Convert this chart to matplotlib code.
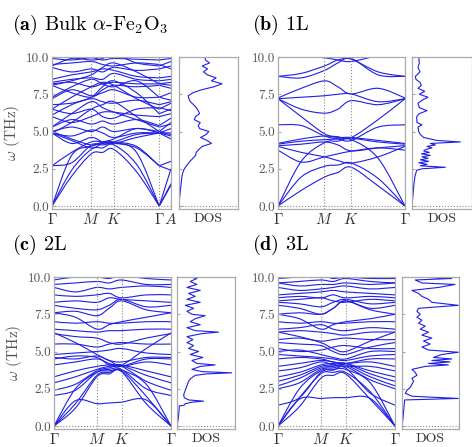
import numpy as np
import matplotlib.pyplot as plt
from matplotlib.path import Path
from matplotlib.patches import PathPatch

plt.rcParams['font.family'] = 'cmr10'
plt.rcParams['mathtext.fontset'] = 'cm'
plt.rcParams['axes.formatter.use_mathtext'] = True
plt.rcParams['axes.unicode_minus'] = False

# k-path (hexagonal BZ), segment lengths
hex_labels = [r'$\Gamma$', r'$M$', r'$K$', r'$\Gamma$']
hex_seg = [0.577, 0.333, 0.667]
bulk_labels = hex_labels + [r'$A$']
bulk_seg = hex_seg + [0.173]

# bands in THz at: G, mid, M, mid, K, mid, G (+ A for bulk)
bands_bulk = [
    [0.0, 2.0, 3.5, 3.6, 3.8, 2.3, 0.0, 1.4],
    [0.0, 2.4, 3.8, 3.9, 4.1, 2.8, 0.0, 1.5],
    [0.0, 3.4, 4.0, 4.2, 4.25, 3.6, 0.0, 2.5],
    [2.7, 2.9, 4.1, 4.1, 4.2, 3.9, 2.7, 2.4],
    [2.7, 3.6, 4.3, 4.3, 4.3, 4.0, 2.7, 3.0],
    [4.9, 4.2, 4.6, 4.3, 4.2, 4.6, 4.9, 4.5],
    [4.9, 4.7, 5.1, 4.9, 4.6, 4.9, 4.9, 4.9],
    [5.0, 5.3, 5.0, 5.3, 5.0, 5.2, 5.0, 5.6],
    [5.3, 5.8, 5.5, 5.7, 5.5, 5.8, 5.4, 5.9],
    [6.0, 5.6, 6.0, 6.3, 6.3, 6.1, 6.0, 6.2],
    [6.5, 6.2, 6.5, 6.0, 5.9, 6.5, 6.6, 6.4],
    [6.8, 6.9, 7.2, 7.0, 6.9, 7.1, 6.8, 7.0],
    [7.2, 7.8, 7.4, 7.6, 7.8, 7.3, 7.3, 7.1],
    [8.1, 7.6, 7.3, 7.8, 8.1, 8.0, 8.1, 7.9],
    [8.2, 8.3, 8.0, 8.2, 8.3, 8.2, 8.2, 8.3],
    [8.3, 8.5, 8.6, 8.5, 8.9, 8.5, 8.4, 8.5],
    [8.5, 8.8, 9.0, 9.2, 9.1, 8.7, 8.6, 8.7],
    [9.3, 9.0, 9.2, 9.0, 9.3, 9.1, 9.2, 9.4],
    [9.5, 9.6, 9.7, 9.5, 9.4, 9.6, 9.5, 9.2],
    [9.9, 9.8, 9.95, 9.8, 9.9, 9.85, 9.8, 9.9],
    [4.9, 5.6, 6.5, 6.8, 7.0, 6.0, 5.0, 4.8],
    [6.1, 6.8, 7.3, 8.0, 8.4, 7.6, 6.2, 6.5],
    [5.0, 4.5, 4.1, 4.3, 4.5, 5.2, 4.9, 5.2],
    [8.1, 8.4, 8.8, 9.3, 9.6, 9.0, 8.2, 8.1],
    [5.3, 6.2, 7.0, 6.6, 6.3, 5.8, 5.3, 5.5],
    [6.5, 7.3, 8.0, 8.3, 8.1, 7.2, 6.5, 6.9],
    [4.9, 4.4, 3.9, 4.2, 4.3, 4.8, 4.9, 4.7],
    [7.3, 8.0, 8.5, 8.2, 8.0, 8.4, 7.3, 7.6],
    [9.4, 9.9, 9.8, 9.9, 10.2, 9.6, 9.4, 9.7],
]

bands_1l = [
    [0.0, 1.05, 1.94, 2.25, 2.6, 1.35, 0.0],
    [0.0, 1.95, 2.66, 2.75, 2.88, 1.85, 0.0],
    [0.0, 3.0, 4.25, 4.35, 4.45, 3.2, 0.0],
    [3.75, 2.95, 3.3, 3.5, 3.68, 3.9, 3.75],
    [4.0, 3.6, 3.3, 3.05, 2.88, 3.3, 4.0],
    [4.05, 4.15, 4.3, 4.1, 3.7, 3.9, 4.05],
    [4.15, 4.35, 4.45, 4.5, 4.55, 4.3, 4.15],
    [4.2, 4.5, 4.7, 4.6, 4.6, 4.4, 4.2],
    [5.45, 5.4, 4.7, 4.5, 4.4, 5.3, 5.45],
    [7.2, 6.0, 4.85, 4.65, 4.6, 5.8, 7.2],
    [7.2, 6.5, 6.23, 6.5, 7.07, 6.8, 7.2],
    [7.2, 7.3, 7.4, 7.5, 7.52, 7.0, 7.2],
    [7.25, 7.9, 8.4, 8.0, 7.52, 7.9, 7.25],
    [8.7, 8.6, 9.1, 9.6, 9.9, 8.8, 8.7],
    [8.7, 8.9, 9.4, 9.8, 9.85, 9.0, 8.7],
    [10.5, 10.1, 9.95, 9.8, 9.7, 10.1, 10.5],
]

bands_2l = [
    [0.0, 1.7, 1.5, 1.55, 1.6, 1.75, 0.0],
    [0.0, 1.2, 3.3, 3.5, 3.65, 1.5, 0.0],
    [0.0, 1.5, 3.4, 3.6, 3.7, 2.0, 0.0],
    [0.0, 2.5, 3.6, 3.7, 3.75, 2.8, 0.0],
    [2.05, 2.4, 3.6, 3.8, 3.8, 2.5, 2.05],
    [2.4, 2.8, 3.7, 3.9, 4.0, 3.0, 2.4],
    [2.9, 3.3, 3.8, 4.0, 4.05, 3.4, 2.9],
    [3.3, 3.7, 4.0, 4.1, 4.1, 3.7, 3.3],
    [4.1, 4.3, 4.5, 4.2, 4.0, 4.3, 4.1],
    [4.5, 4.7, 4.6, 4.1, 4.0, 4.5, 4.5],
    [4.6, 4.5, 4.7, 4.4, 4.3, 4.6, 4.6],
    [4.8, 4.9, 5.0, 5.1, 5.2, 4.9, 4.8],
    [5.5, 5.5, 5.3, 5.5, 5.6, 5.5, 5.5],
    [6.2, 6.0, 5.9, 5.6, 5.5, 5.9, 6.2],
    [6.25, 5.6, 4.8, 4.4, 4.1, 5.2, 6.25],
    [6.5, 6.4, 6.3, 6.4, 6.4, 6.5, 6.5],
    [7.0, 6.9, 7.0, 6.9, 6.9, 7.0, 7.0],
    [7.6, 7.3, 6.5, 6.8, 7.0, 7.3, 7.6],
    [7.6, 7.7, 7.4, 7.9, 8.4, 7.8, 7.6],
    [8.1, 7.9, 7.8, 8.1, 8.5, 8.0, 8.1],
    [8.3, 8.4, 8.3, 8.6, 8.5, 8.4, 8.3],
    [8.8, 8.7, 8.8, 8.9, 8.6, 8.8, 8.8],
    [9.3, 9.0, 9.3, 9.2, 9.3, 9.4, 9.3],
    [9.5, 9.6, 9.7, 9.6, 9.8, 9.5, 9.5],
    [9.8, 10.0, 10.0, 9.9, 10.1, 9.9, 9.8],
]

bands_3l = [
    [0.0, 1.8, 1.85, 1.9, 1.9, 1.85, 0.0],
    [0.0, 1.3, 3.2, 3.4, 3.5, 1.8, 0.0],
    [0.0, 1.9, 3.5, 3.6, 3.6, 2.3, 0.0],
    [0.0, 2.5, 3.7, 3.8, 3.8, 2.9, 0.0],
    [1.4, 1.9, 3.6, 3.75, 3.9, 2.2, 1.4],
    [2.5, 2.9, 3.8, 3.9, 4.0, 3.1, 2.5],
    [2.7, 3.2, 3.9, 4.0, 4.1, 3.3, 2.7],
    [3.0, 3.4, 4.0, 4.1, 4.2, 3.5, 3.0],
    [3.3, 3.6, 4.1, 4.2, 4.2, 3.7, 3.3],
    [3.7, 3.9, 4.3, 4.1, 4.0, 4.0, 3.7],
    [4.0, 4.2, 4.4, 4.3, 4.2, 4.3, 4.0],
    [4.5, 4.6, 4.5, 4.3, 4.2, 4.5, 4.5],
    [4.8, 4.7, 4.6, 4.5, 4.4, 4.7, 4.8],
    [5.0, 5.1, 4.8, 4.6, 4.5, 5.0, 5.0],
    [5.2, 5.0, 5.1, 5.3, 5.4, 5.2, 5.2],
    [5.6, 5.5, 5.4, 5.0, 4.8, 5.3, 5.6],
    [5.8, 5.9, 5.7, 5.8, 5.9, 5.8, 5.8],
    [6.3, 6.0, 5.6, 5.2, 5.0, 5.7, 6.3],
    [6.3, 6.4, 6.3, 6.2, 6.1, 6.3, 6.3],
    [6.5, 6.6, 6.8, 6.5, 6.4, 6.6, 6.5],
    [7.0, 6.9, 7.0, 6.9, 6.9, 7.0, 7.0],
    [7.5, 7.2, 6.5, 6.8, 7.0, 7.2, 7.5],
    [7.5, 7.6, 7.5, 7.9, 8.4, 7.8, 7.5],
    [8.1, 7.9, 7.5, 7.9, 8.4, 7.9, 8.1],
    [8.3, 8.2, 8.0, 8.3, 8.5, 8.2, 8.3],
    [8.4, 8.5, 8.6, 8.4, 8.3, 8.5, 8.4],
    [8.6, 8.7, 8.6, 8.8, 8.6, 8.7, 8.6],
    [8.8, 8.9, 9.0, 9.1, 9.0, 8.9, 8.8],
    [9.3, 9.1, 9.2, 9.3, 9.4, 9.2, 9.3],
    [9.6, 9.4, 9.5, 9.5, 9.6, 9.5, 9.6],
    [9.6, 9.7, 9.8, 9.7, 9.9, 9.7, 9.6],
    [9.9, 10.0, 10.1, 9.9, 10.0, 9.9, 9.9],
]

# DOS (arb. units) vs frequency (THz)
dos_bulk_f = [0.0, 0.4, 0.8, 1.2, 1.6, 2.0, 2.2, 2.4, 2.6, 2.8, 3.0, 3.2, 3.4, 3.6, 3.8, 4.0,
              4.2, 4.4, 4.6, 4.8, 5.0, 5.2, 5.4, 5.6, 5.8, 6.0, 6.2, 6.4, 6.6, 6.8, 7.0, 7.2,
              7.4, 7.6, 7.8, 8.0, 8.2, 8.4, 8.6, 8.8, 9.0, 9.2, 9.4, 9.6, 9.8, 10.0]
dos_bulk_v = [0, 1, 3, 5, 7, 9, 11, 14, 19, 26, 33, 42, 50, 52, 60, 70,
              98, 85, 65, 82, 90, 62, 58, 64, 46, 50, 62, 58, 52, 44, 34, 30,
              28, 42, 68, 105, 130, 98, 112, 86, 74, 86, 70, 92, 80, 78]

dos_1l_f = [0.0, 0.5, 1.0, 1.5, 2.0, 2.4, 2.5, 2.6, 2.7, 2.8, 2.9, 3.0, 3.1, 3.2, 3.3, 3.4,
            3.5, 3.6, 3.7, 3.8, 3.9, 4.0, 4.1, 4.2, 4.3, 4.4, 4.5, 4.6, 4.8, 5.0, 5.3, 5.45,
            5.6, 6.0, 6.2, 6.4, 6.6, 6.9, 7.1, 7.3, 7.5, 7.7, 7.9, 8.1, 8.3, 8.5, 8.7, 9.0,
            9.3, 9.6, 10.0]
dos_1l_v = [0, 2, 4, 6, 9, 14, 30, 100, 25, 45, 20, 50, 25, 48, 30, 55,
            28, 52, 35, 42, 60, 45, 70, 55, 145, 75, 55, 35, 25, 20, 18, 30,
            15, 14, 22, 45, 22, 18, 30, 48, 22, 38, 18, 28, 24, 12, 10, 24,
            18, 22, 20]

dos_2l_f = [0.0, 0.5, 1.0, 1.35, 1.4, 1.5, 1.6, 1.67, 1.75, 1.9, 2.1, 2.4, 2.7, 3.0, 3.2, 3.4,
            3.5, 3.57, 3.65, 3.8, 4.0, 4.1, 4.2, 4.4, 4.6, 4.8, 5.0, 5.2, 5.4, 5.6, 5.8, 6.0,
            6.2, 6.3, 6.4, 6.6, 6.8, 7.0, 7.2, 7.4, 7.5, 7.7, 7.9, 8.1, 8.3, 8.5, 8.7, 8.9,
            9.1, 9.3, 9.5, 9.7, 9.9, 10.0]
dos_2l_v = [0, 4, 6, 7, 22, 25, 45, 80, 35, 22, 20, 25, 30, 35, 42, 55,
            90, 165, 75, 45, 70, 115, 60, 45, 78, 40, 65, 35, 50, 30, 48, 30,
            75, 125, 55, 30, 70, 40, 55, 85, 45, 30, 50, 25, 70, 30, 55, 35,
            70, 30, 60, 40, 60, 40]

dos_3l_f = [0.0, 0.5, 1.0, 1.5, 1.75, 1.85, 2.0, 2.2, 2.4, 2.6, 2.8, 3.0, 3.2, 3.4, 3.6, 3.8,
            4.0, 4.1, 4.2, 4.3, 4.4, 4.5, 4.6, 4.8, 4.95, 5.1, 5.3, 5.5, 5.7, 5.9, 6.1, 6.3,
            6.5, 6.7, 6.9, 7.1, 7.3, 7.5, 7.7, 7.9, 8.1, 8.3, 8.5, 8.7, 8.9, 9.1, 9.3, 9.5,
            9.6, 9.8, 9.9, 10.0]
dos_3l_v = [0, 3, 5, 7, 8, 170, 30, 10, 15, 25, 30, 35, 30, 45, 40, 30,
            70, 140, 80, 145, 90, 150, 95, 120, 170, 80, 60, 85, 65, 90, 60, 80,
            55, 70, 50, 60, 45, 55, 45, 50, 170, 90, 80, 60, 50, 30, 110, 160,
            60, 40, 150, 50]

line_c = '#1f1fe6'
grey = '#aaaaaa'
txt_c = '#555555'

W, H = 472, 447
fig = plt.figure(figsize=(W / 100, H / 100), dpi=100)


def rect(x0, y0, x1, y1):
    return [x0 / W, 1 - y1 / H, (x1 - x0) / W, (y1 - y0) / H]


def kpath(seg, n_mid):
    nodes = np.concatenate([[0.0], np.cumsum(seg)])
    k = [nodes[0]]
    for i in range(len(seg)):
        if i < n_mid:
            k.append((nodes[i] + nodes[i + 1]) / 2)
        k.append(nodes[i + 1])
    return nodes, np.array(k)


def smooth_line(ax, x, y):
    # draw a smooth curve through the given points (cubic Bezier pieces)
    p = np.column_stack([x, y])
    verts = [p[0]]
    codes = [Path.MOVETO]
    n = len(p)
    for i in range(n - 1):
        p0 = p[i - 1] if i > 0 else p[i]
        p3 = p[i + 2] if i + 2 < n else p[i + 1]
        c1 = p[i] + (p[i + 1] - p0) / 6
        c2 = p[i + 1] - (p3 - p[i]) / 6
        verts += [c1, c2, p[i + 1]]
        codes += [Path.CURVE4] * 3
    ax.add_patch(PathPatch(Path(verts, codes), fill=False, ec=line_c, lw=0.8))


def style(ax):
    for s in ax.spines.values():
        s.set_color(grey)
        s.set_linewidth(0.9)
    ax.tick_params(direction='in', length=2.5, color=grey, labelcolor=txt_c,
                   labelsize=9.5, pad=2)


def panel(rb, rd, bands, seg, labels, dos_f, dos_v, dmax, title, tx, ty, ylab):
    ax = fig.add_axes(rect(*rb))
    nodes, k = kpath(seg, 3)
    for b in bands:
        smooth_line(ax, k[:7], b[:7])
        if len(b) > 7:
            smooth_line(ax, k[6:], b[6:])
    ax.set_xlim(nodes[0], nodes[-1])
    ax.set_ylim(-0.2, 10.0)
    ax.set_yticks([0, 2.5, 5, 7.5, 10])
    ax.set_yticklabels(['0.0', '2.5', '5.0', '7.5', '10.0'])
    ax.set_xticks(nodes)
    ax.set_xticklabels(labels)
    for n in nodes[1:-1]:
        ax.axvline(n, color='#888888', ls=':', lw=0.8)
    ax.axhline(0, color='#888888', ls=':', lw=0.8)
    style(ax)
    ax.tick_params(axis='x', length=0, labelcolor='#333333', labelsize=11, pad=2)
    if ylab:
        ax.set_ylabel(r'$\omega$ (THz)', color=txt_c, fontsize=11, labelpad=3)

    ad = fig.add_axes(rect(*rd))
    ad.plot(dos_v, dos_f, color=line_c, lw=0.8)
    ad.set_xlim(0, dmax)
    ad.set_ylim(-0.2, 10.0)
    ad.set_yticks([0, 2.5, 5, 7.5, 10])
    ad.set_yticklabels([])
    ad.set_xticks([dmax / 2])
    ad.set_xticklabels(['DOS'])
    ad.axhline(0, color='#888888', ls=':', lw=0.8)
    style(ad)
    ad.tick_params(axis='x', length=0, labelcolor='#333333', labelsize=10, pad=3)

    fig.text(tx / W, 1 - ty / H, title, fontsize=14.5, va='center', ha='left')


panel((52, 57, 171, 209), (179, 57, 238, 209), bands_bulk, bulk_seg, bulk_labels,
      dos_bulk_f, dos_bulk_v, 178,
      r'$\mathbf{(a)}$ Bulk $\alpha$-Fe$_2$O$_3$', 12, 25, True)
panel((278, 57, 405, 209), (412, 57, 472, 209), bands_1l, hex_seg, hex_labels,
      dos_1l_f, dos_1l_v, 180, r'$\mathbf{(b)}$ 1L', 252, 25, False)
panel((54, 277, 171, 429), (177, 277, 235, 429), bands_2l, hex_seg, hex_labels,
      dos_2l_f, dos_2l_v, 175, r'$\mathbf{(c)}$ 2L', 12, 245, True)
panel((278, 277, 395, 429), (402, 277, 459, 429), bands_3l, hex_seg, hex_labels,
      dos_3l_f, dos_3l_v, 172, r'$\mathbf{(d)}$ 3L', 252, 245, False)

fig.savefig('out.png', dpi=100)
